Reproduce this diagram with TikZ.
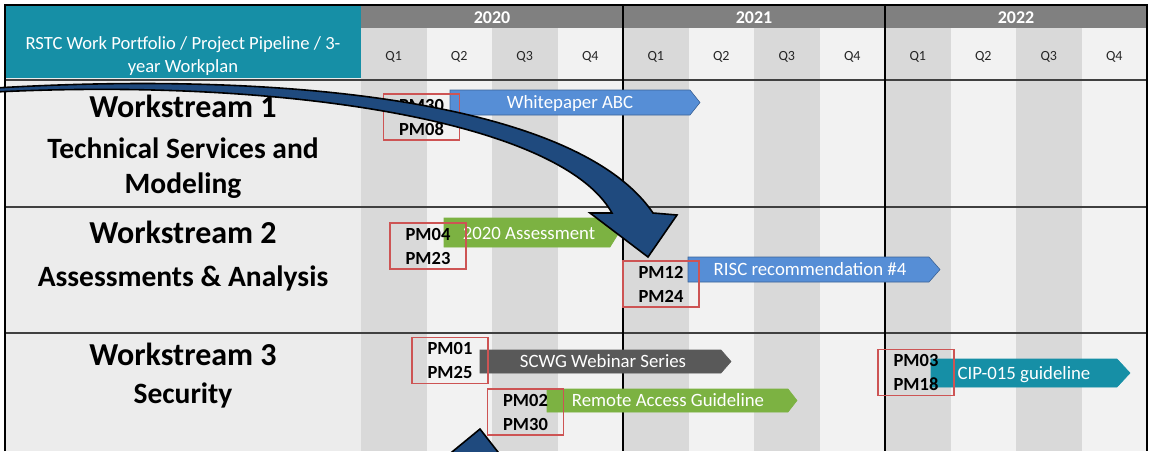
\documentclass[tikz,border=0pt]{standalone}
\usepackage{fontspec}
\setmainfont{Carlito}
\definecolor{sarcelle}{RGB}{22,143,166}
\definecolor{grisannee}{RGB}{128,128,128}
\definecolor{colfonce}{RGB}{217,217,217}
\definecolor{colclair}{RGB}{242,242,242}
\definecolor{colgauche}{RGB}{236,236,236}
\definecolor{grisligne}{RGB}{64,64,64}
\definecolor{bleubarre}{RGB}{86,142,214}
\definecolor{vertbarre}{RGB}{124,178,66}
\definecolor{grisbarre}{RGB}{89,89,89}
\definecolor{rouge}{RGB}{205,84,84}
\definecolor{bleufonce}{RGB}{31,74,126}
\begin{document}
\begin{tikzpicture}[x=1pt,y=-1pt]
% Styles
\tikzstyle{cadre}=[line width=2.4pt]
\tikzstyle{ligne}=[line width=1.4pt,grisligne]
\tikzstyle{titre}=[anchor=base,font=\fontsize{32}{38}\selectfont\bfseries]
\tikzstyle{soustitre}=[anchor=base,font=\fontsize{29.5}{35}\selectfont\bfseries]
\tikzstyle{entete}=[anchor=base,text=white,font=\fontsize{18.6}{22}\selectfont]
\tikzstyle{annee}=[anchor=base,text=white,font=\fontsize{18}{22}\selectfont\bfseries]
\tikzstyle{trimestre}=[anchor=base,text=black!85,font=\fontsize{14}{16}\selectfont]
\tikzstyle{barre}=[line width=0.6pt]
\tikzstyle{textebarre}=[anchor=base,text=white,font=\fontsize{18.8}{22}\selectfont]
\tikzstyle{boite}=[draw=rouge,line width=1.7pt,minimum width=76pt,minimum height=46pt,inner sep=1pt,align=center,font=\fontsize{18.5}{24}\selectfont\bfseries]
\tikzstyle{flechebleue}=[fill=bleufonce,draw=black,line width=1.6pt]
% Dimensions
\def\Col{65.5}
\def\Deb{361}
\def\Gauche{5}
\def\Droite{1147}
\def\Haut{5}
\def\Bas{451}
\def\LigneAn{28}
\def\LigneEnt{80}
\def\LigneUn{207}
\def\LigneDeux{333}
% Fond
\useasboundingbox (0,0) rectangle (1153,451);
\fill[white] (0,0) rectangle (1153,451);
\fill[colgauche] (\Gauche,\Haut) rectangle (\Deb,\Bas);
\fill[sarcelle] (\Gauche,\Haut) rectangle (\Deb,78);
% Colonnes des trimestres
\fill[colclair] (\Deb,\LigneAn) rectangle (\Droite,\Bas);
\fill[colfonce] (\Deb+0*\Col,\LigneAn) rectangle (\Deb+1*\Col,\Bas);
\fill[colfonce] (\Deb+2*\Col,\LigneAn) rectangle (\Deb+3*\Col,\Bas);
\fill[colfonce] (\Deb+4*\Col,\LigneAn) rectangle (\Deb+5*\Col,\Bas);
\fill[colfonce] (\Deb+6*\Col,\LigneAn) rectangle (\Deb+7*\Col,\Bas);
\fill[colfonce] (\Deb+8*\Col,\LigneAn) rectangle (\Deb+9*\Col,\Bas);
\fill[colfonce] (\Deb+10*\Col,\LigneAn) rectangle (\Deb+11*\Col,\Bas);
\fill[grisannee] (\Deb,\Haut) rectangle (\Droite,\LigneAn);
% Ligne des années
\node[annee] (an2020) at (\Deb+2*\Col,23) {2020};
\node[annee] (an2021) at (\Deb+6*\Col,23) {2021};
\node[annee] (an2022) at (\Deb+10*\Col,23) {2022};
% Ligne des trimestres
\node[trimestre] (t01) at (\Deb+0.5*\Col,60) {Q1};
\node[trimestre] (t02) at (\Deb+1.5*\Col,60) {Q2};
\node[trimestre] (t03) at (\Deb+2.5*\Col,60) {Q3};
\node[trimestre] (t04) at (\Deb+3.5*\Col,60) {Q4};
\node[trimestre] (t05) at (\Deb+4.5*\Col,60) {Q1};
\node[trimestre] (t06) at (\Deb+5.5*\Col,60) {Q2};
\node[trimestre] (t07) at (\Deb+6.5*\Col,60) {Q3};
\node[trimestre] (t08) at (\Deb+7.5*\Col,60) {Q4};
\node[trimestre] (t09) at (\Deb+8.5*\Col,60) {Q1};
\node[trimestre] (t10) at (\Deb+9.5*\Col,60) {Q2};
\node[trimestre] (t11) at (\Deb+10.5*\Col,60) {Q3};
\node[trimestre] (t12) at (\Deb+11.5*\Col,60) {Q4};
% Entête
\node[entete] (ent1) at (183,49) {RSTC Work Portfolio / Project Pipeline / 3-};
\node[entete] (ent2) at (183,72) {year Workplan};
% Colonne des axes
\node[titre] (ws1) at (183,117) {Workstream 1};
\node[soustitre] (ws1a) at (183,158) {Technical Services and};
\node[soustitre] (ws1b) at (183,193) {Modeling};
\node[titre] (ws2) at (183,243) {Workstream 2};
\node[soustitre] (ws2a) at (183,286) {Assessments \& Analysis};
\node[titre] (ws3) at (183,365) {Workstream 3};
\node[soustitre] (ws3a) at (183,403) {Security};
% Encadrement
\draw[ligne] (\Gauche,\LigneEnt) -- (\Droite,\LigneEnt);
\draw[ligne] (\Gauche,\LigneUn) -- (\Droite,\LigneUn);
\draw[ligne] (\Gauche,\LigneDeux) -- (\Droite,\LigneDeux);
\draw[cadre] (\Deb+4*\Col,\Haut) -- (\Deb+4*\Col,\Bas);
\draw[cadre] (\Deb+8*\Col,\Haut) -- (\Deb+8*\Col,\Bas);
\draw[cadre] (\Gauche,\Bas) -- (\Gauche,\Haut) -- (\Droite,\Haut) -- (\Droite,\Bas);
% Barres
\draw[barre,fill=bleubarre,draw=bleubarre!70!black] (450,90) -- (690,90) -- (700,102.5) -- (690,115) -- (450,115) -- cycle;
\node[textebarre] (wp) at (570,108.5) {Whitepaper ABC};
\draw[barre,fill=vertbarre,draw=vertbarre] (444,218) -- (610,218) -- (619,232.5) -- (610,247) -- (444,247) -- cycle;
\node[textebarre] (ev2020) at (529,239) {2020 Assessment};
\draw[barre,fill=bleubarre,draw=bleubarre!70!black] (688,257) -- (929,257) -- (940,269.5) -- (929,282) -- (688,282) -- cycle;
\node[textebarre] (risc) at (810,275.5) {RISC recommendation \#4};
\draw[barre,fill=grisbarre,draw=grisbarre] (480,350) -- (721,350) -- (731,361.5) -- (721,373) -- (480,373) -- cycle;
\node[textebarre] (scwg) at (603,367.5) {SCWG Webinar Series};
\draw[barre,fill=vertbarre,draw=vertbarre] (547,389) -- (788,389) -- (797,400.5) -- (788,412) -- (547,412) -- cycle;
\node[textebarre] (acces) at (668,406.5) {Remote Access Guideline};
\draw[barre,fill=sarcelle,draw=sarcelle] (931,359) -- (1117,359) -- (1130,373) -- (1117,387) -- (931,387) -- cycle;
\node[textebarre] (cip) at (1024,379) {CIP-015 guideline};
% Cadres des PM
\node[boite] (pm30) at (421.5,117) {PM30\\PM08};
\node[boite] (pm04) at (428,246) {PM04\\PM23};
\node[boite] (pm12) at (661,284) {PM12\\PM24};
\node[boite] (pm01) at (450,360.5) {PM01\\PM25};
\node[boite] (pm02) at (525.5,412) {PM02\\PM30};
\node[boite] (pm03) at (916,372.5) {PM03\\PM18};
% Flèches courbes
\draw[flechebleue] (-5,88) .. controls (300,70) and (580,105) .. (653,213) -- (677,215) -- (648,257) -- (590,213) -- (612,213) .. controls (560,120) and (280,78) .. (-5,92) -- cycle;
\draw[flechebleue] (430,470) -- (480,429) -- (512,470) -- cycle;
\end{tikzpicture}
\end{document}
